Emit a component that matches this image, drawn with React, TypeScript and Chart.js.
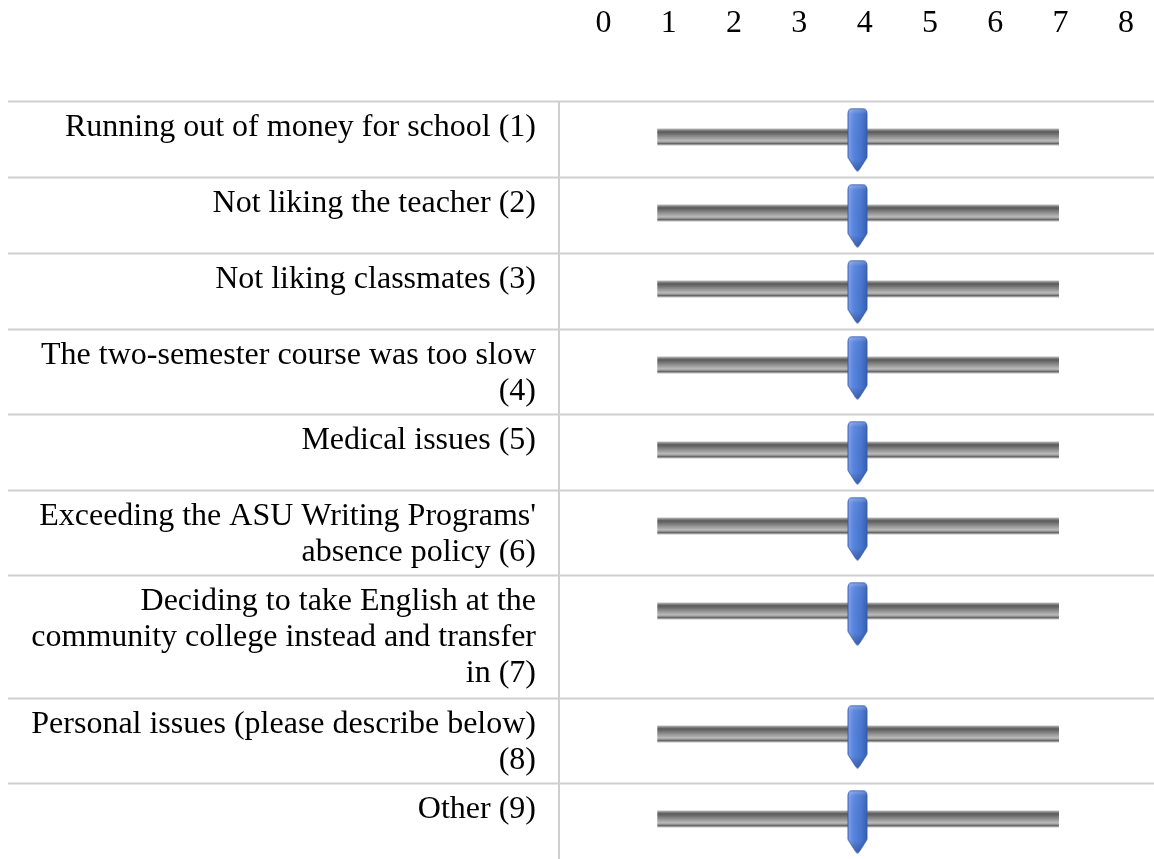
import React, { useEffect, useRef } from 'react';
import { Chart, registerables } from 'chart.js';

Chart.register(...registerables);

// ---------- data ----------
const rowLabels: string[][] = [
  ['Running out of money for school (1)'],
  ['Not liking the teacher (2)'],
  ['Not liking classmates (3)'],
  ['The two-semester course was too slow', '(4)'],
  ['Medical issues (5)'],
  ["Exceeding the ASU Writing Programs'", 'absence policy (6)'],
  ['Deciding to take English at the', 'community college instead and transfer', 'in (7)'],
  ['Personal issues (please describe below)', '(8)'],
  ['Other (9)'],
];
const sliderValues: number[] = [3.89, 3.89, 3.89, 3.89, 3.89, 3.89, 3.89, 3.89, 3.89];
const scaleTicks: number[] = [0, 1, 2, 3, 4, 5, 6, 7, 8];
const tickLabels: string[] = ['0', '1', '2', '3', '4', '5', '6', '7', '8'];
const sliderStart = 0.83;
const sliderEnd = 6.97;

// ---------- layout ----------
const W = 1154;
const H = 859;
const HEADER_H = 102;
const LABEL_COL_W = 559;
const X_MIN = -0.68;
const X_MAX = 8.43;
const FONT_FAMILY = "'Liberation Serif', 'Times New Roman', Times, serif";
const FONT_SIZE = 32;
const LINE_H = 36;
const MIN_ROW_H = 76;
const FIRST_LINE_OFFSET = 26;
const TRACK_OFFSET = 35;
const TRACK_THICK = 17;
const THUMB_OFFSET = 38;
const HEADER_LABEL_PAD = 51;

const rowHeights = rowLabels.map((l) => Math.max(MIN_ROW_H, l.length * 38 + 9));
const rowTops: number[] = [];
rowHeights.reduce((acc, h) => {
  rowTops.push(acc);
  return acc + h;
}, 0);
const labelY = rowLabels.map((l, i) => rowTops[i] + FIRST_LINE_OFFSET + ((l.length - 1) * LINE_H) / 2);
const trackY = rowTops.map((t) => t + TRACK_OFFSET);
const thumbY = rowTops.map((t) => t + THUMB_OFFSET);

function makeThumb(): HTMLCanvasElement {
  const w = 21;
  const h = 65;
  const c = document.createElement('canvas');
  c.width = w;
  c.height = h;
  const g = c.getContext('2d') as CanvasRenderingContext2D;
  const l = 1;
  const r = w - 1;
  const top = 1;
  const shoulder = h - 15;
  const tip = h - 1;
  const rad = 5;
  const path = () => {
    g.beginPath();
    g.moveTo(l, top + rad);
    g.quadraticCurveTo(l, top, l + rad, top);
    g.lineTo(r - rad, top);
    g.quadraticCurveTo(r, top, r, top + rad);
    g.lineTo(r, shoulder);
    g.lineTo(w / 2 + 1.5, tip - 1.5);
    g.quadraticCurveTo(w / 2, tip + 0.5, w / 2 - 1.5, tip - 1.5);
    g.lineTo(l, shoulder);
    g.closePath();
  };
  path();
  const grad = g.createLinearGradient(l, 0, r, 0);
  grad.addColorStop(0, '#7ba0ec');
  grad.addColorStop(0.3, '#5884de');
  grad.addColorStop(0.7, '#4775ce');
  grad.addColorStop(1, '#3360b2');
  g.fillStyle = grad;
  g.fill();
  const shade = g.createLinearGradient(0, 0, 0, h);
  shade.addColorStop(0, 'rgba(255,255,255,0.35)');
  shade.addColorStop(0.1, 'rgba(255,255,255,0.05)');
  shade.addColorStop(0.8, 'rgba(0,0,0,0)');
  shade.addColorStop(1, 'rgba(10,40,110,0.35)');
  path();
  g.fillStyle = shade;
  g.fill();
  g.strokeStyle = 'rgba(52,88,170,0.9)';
  g.lineWidth = 1;
  path();
  g.stroke();
  return c;
}

const separatorPlugin = {
  id: 'rowSeparators',
  beforeDatasetsDraw(chart: any) {
    const y = chart.scales.y;
    const ctx = chart.ctx as CanvasRenderingContext2D;
    ctx.save();
    ctx.strokeStyle = '#cfcfcf';
    ctx.lineWidth = 2;
    rowTops.forEach((t) => {
      const py = Math.round(y.getPixelForValue(t)) - 0.5;
      ctx.beginPath();
      ctx.moveTo(8, py);
      ctx.lineTo(chart.width, py);
      ctx.stroke();
    });
    ctx.restore();
  },
};

export default function App() {
  const ref = useRef<HTMLCanvasElement>(null);
  useEffect(() => {
    const canvas = ref.current;
    if (!canvas) return;
    const thumb = makeThumb();
    const chart = new Chart(canvas, {
      type: 'bar',
      data: {
        datasets: [
          {
            type: 'scatter',
            label: 'value',
            data: sliderValues.map((v, i) => ({ x: v, y: thumbY[i] })),
            pointStyle: thumb as any,
            pointRadius: 10,
            order: 0,
          } as any,
          {
            type: 'bar',
            label: 'track',
            indexAxis: 'y',
            data: sliderValues.map((_, i) => ({ x: [sliderStart, sliderEnd], y: trackY[i] })),
            barThickness: TRACK_THICK,
            borderWidth: 0,
            order: 1,
            backgroundColor: (ctx: any) => {
              const ch = ctx.chart;
              const ys = ch.scales && ch.scales.y;
              if (ctx.type !== 'data' || !ys) return '#999';
              const yc = ys.getPixelForValue(trackY[ctx.dataIndex]);
              if (!Number.isFinite(yc)) return '#999';
              const half = TRACK_THICK / 2;
              const g = ch.ctx.createLinearGradient(0, yc - half, 0, yc + half);
              g.addColorStop(0, '#d4d4d4');
              g.addColorStop(0.08, '#8c8c8c');
              g.addColorStop(0.2, '#595959');
              g.addColorStop(0.45, '#888888');
              g.addColorStop(0.72, '#bababa');
              g.addColorStop(0.8, '#a0a0a0');
              g.addColorStop(0.88, '#666666');
              g.addColorStop(0.95, '#a0a0a0');
              g.addColorStop(1, '#d6d6d6');
              return g;
            },
          } as any,
        ],
      },
      options: {
        responsive: false,
        devicePixelRatio: 1,
        animation: false,
        events: [],
        layout: { padding: 0, autoPadding: false },
        plugins: {
          legend: { display: false },
          tooltip: { enabled: false },
        },
        scales: {
          x: {
            type: 'linear',
            position: 'top',
            min: X_MIN,
            max: X_MAX,
            offset: false,
            beginAtZero: false,
            bounds: 'data',
            grid: { display: false, offset: false },
            border: { display: false },
            ticks: {
              autoSkip: false,
              maxRotation: 0,
              padding: HEADER_LABEL_PAD,
              color: '#000',
              font: { family: FONT_FAMILY, size: FONT_SIZE, lineHeight: 1.2 },
              callback: (_v: any, i: number) => tickLabels[i],
            },
            afterBuildTicks: (scale: any) => {
              scale.ticks = scaleTicks.map((v) => ({ value: v }));
            },
            afterFit: (scale: any) => {
              scale.height = HEADER_H;
              scale.paddingLeft = 0;
              scale.paddingRight = 0;
              scale.paddingTop = 0;
              scale.paddingBottom = 0;
            },
          },
          y: {
            type: 'linear',
            position: 'left',
            reverse: true,
            min: 0,
            max: H - HEADER_H,
            offset: false,
            beginAtZero: false,
            bounds: 'data',
            grid: { display: false, offset: false },
            border: { display: true, color: '#cfcfcf', width: 2 },
            ticks: {
              autoSkip: false,
              padding: 15,
              color: '#000',
              font: { family: FONT_FAMILY, size: FONT_SIZE, lineHeight: LINE_H / FONT_SIZE },
              callback: (_v: any, i: number) => rowLabels[i],
            },
            afterBuildTicks: (scale: any) => {
              scale.ticks = labelY.map((v) => ({ value: v }));
            },
            afterFit: (scale: any) => {
              scale.width = LABEL_COL_W;
              scale.paddingTop = 0;
              scale.paddingBottom = 0;
              scale.paddingLeft = 0;
              scale.paddingRight = 0;
            },
          },
        },
      } as any,
      plugins: [separatorPlugin],
    });
    return () => chart.destroy();
  }, []);

  return (
    <div style={{ position: 'absolute', left: 0, top: 0, width: W, height: H, background: '#fff' }}>
      <canvas ref={ref} width={W} height={H} style={{ display: 'block', width: W, height: H }} />
    </div>
  );
}
